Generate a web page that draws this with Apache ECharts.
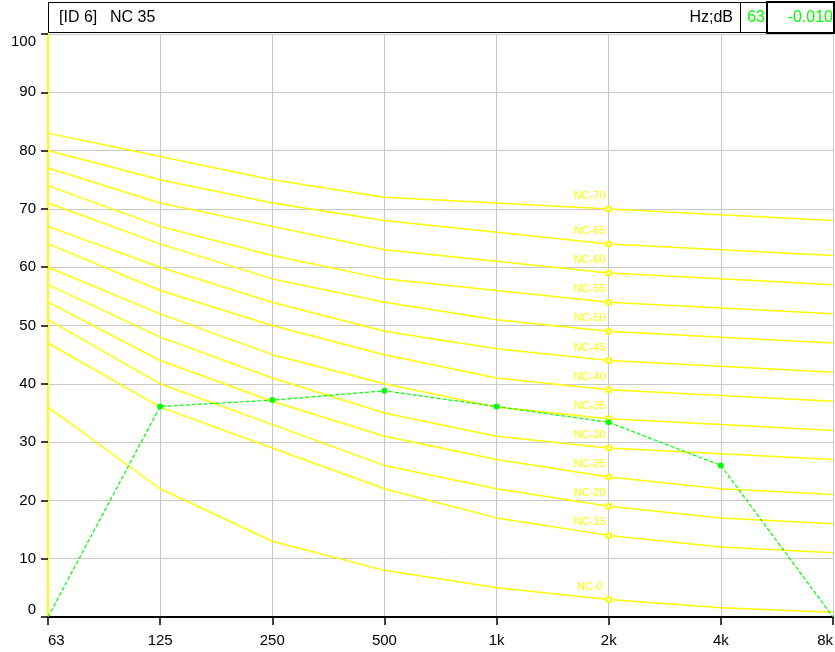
<!DOCTYPE html>
<html>
<head>
<meta charset="utf-8">
<script src="https://cdn.jsdelivr.net/npm/echarts@6/dist/echarts.min.js"></script>
<style>
html,body{margin:0;padding:0;background:#fff;}
#chart{width:835px;height:652px;}
</style>
</head>
<body>
<div id="chart"></div>
<script>
var freqLabels = ['63', '125', '250', '500', '1k', '2k', '4k', '8k'];
var yTicks = [0, 10, 20, 30, 40, 50, 60, 70, 80, 90, 100];

var nc0  = [36, 22, 13, 8, 5, 3, 1.6, 0.8];
var nc15 = [47, 36, 29, 22, 17, 14, 12, 11];
var nc20 = [51, 40, 33, 26, 22, 19, 17, 16];
var nc25 = [54, 44, 37, 31, 27, 24, 22, 21];
var nc30 = [57, 48, 41, 35, 31, 29, 28, 27];
var nc35 = [60, 52, 45, 40, 36, 34, 33, 32];
var nc40 = [64, 56, 50, 45, 41, 39, 38, 37];
var nc45 = [67, 60, 54, 49, 46, 44, 43, 42];
var nc50 = [71, 64, 58, 54, 51, 49, 48, 47];
var nc55 = [74, 67, 62, 58, 56, 54, 53, 52];
var nc60 = [77, 71, 67, 63, 61, 59, 58, 57];
var nc65 = [80, 75, 71, 68, 66, 64, 63, 62];
var nc70 = [83, 79, 75, 72, 71, 70, 69, 68];

var ncNames = ['NC-0', 'NC-15', 'NC-20', 'NC-25', 'NC-30', 'NC-35', 'NC-40', 'NC-45', 'NC-50', 'NC-55', 'NC-60', 'NC-65', 'NC-70'];
var ncCurves = [nc0, nc15, nc20, nc25, nc30, nc35, nc40, nc45, nc50, nc55, nc60, nc65, nc70];

var measured = [0, 36.1, 37.2, 38.8, 36.1, 33.4, 26.0, 0];

var headerId = '[ID 6]';
var headerTitle = 'NC 35';
var headerUnit = 'Hz;dB';
var headerFreq = '63';
var headerValue = '-0.010';

var YELLOW = '#ffff00';
var GREEN = '#00ff00';
var FONT = '"Liberation Sans", Arial, sans-serif';

var series = ncCurves.map(function (curve, i) {
  return {
    name: ncNames[i],
    type: 'line',
    data: curve.map(function (v, j) {
      if (j === 5) {
        return {
          value: v,
          label: {
            show: true,
            position: 'top',
            distance: 4,
            offset: [-19, 0],
            formatter: ncNames[i],
            color: YELLOW,
            fontSize: 11,
            fontFamily: FONT
          }
        };
      }
      return v;
    }),
    showSymbol: true,
    symbol: 'emptyCircle',
    symbolSize: function (v, p) { return p.dataIndex === 5 ? 5 : 0; },
    lineStyle: { color: YELLOW, width: 1.5 },
    itemStyle: { color: YELLOW, borderColor: YELLOW, borderWidth: 1.2 },
    silent: true,
    animation: false,
    z: 2
  };
});

series.push({
  name: 'measured',
  type: 'line',
  data: measured,
  showSymbol: true,
  symbol: 'circle',
  symbolSize: function (v, p) { return (p.dataIndex === 0 || p.dataIndex === measured.length - 1) ? 0 : 6; },
  lineStyle: { color: GREEN, width: 1.2, type: [4, 2] },
  itemStyle: { color: GREEN },
  animation: false,
  z: 5
});

var chart = echarts.init(document.getElementById('chart'), null, { renderer: 'canvas' });
chart.setOption({
  backgroundColor: '#ffffff',
  animation: false,
  grid: { left: 48, right: 2, top: 34, bottom: 35, containLabel: false, outerBoundsMode: 'none' },
  xAxis: {
    type: 'category',
    data: freqLabels,
    boundaryGap: false,
    axisLine: { show: true, lineStyle: { color: '#000', width: 2 } },
    axisTick: { show: true, alignWithLabel: true, length: 8, lineStyle: { color: '#000', width: 1.5 } },
    axisLabel: { color: '#000', fontSize: 15, fontFamily: FONT, margin: 16,
      alignMinLabel: 'left', alignMaxLabel: 'right' },
    splitLine: { show: true, lineStyle: { color: '#c8c8c8', width: 1 } }
  },
  yAxis: {
    type: 'value',
    min: 0,
    max: 100,
    interval: 10,
    axisLine: { show: true, lineStyle: { color: YELLOW, width: 2 } },
    axisTick: { show: true, length: 7, lineStyle: { color: '#000', width: 1.5 } },
    axisLabel: { color: '#000', fontSize: 15, fontFamily: FONT, margin: 12,
      verticalAlignMinLabel: 'bottom', verticalAlignMaxLabel: 'top',
      formatter: function (v) { return yTicks.indexOf(v) >= 0 ? String(v) : ''; } },
    splitLine: { show: true, lineStyle: { color: '#c8c8c8', width: 1 } }
  },
  graphic: [
    { type: 'rect', shape: { x: 48.5, y: 2.5, width: 785, height: 30 },
      style: { fill: '#fff', stroke: '#000', lineWidth: 1 }, z: 10 },
    { type: 'text', x: 59, y: 18, style: { text: headerId, fill: '#000', font: '16px ' + FONT, textVerticalAlign: 'middle' }, z: 11 },
    { type: 'text', x: 110, y: 18, style: { text: headerTitle, fill: '#000', font: '16px ' + FONT, textVerticalAlign: 'middle' }, z: 11 },
    { type: 'text', x: 733, y: 18, style: { text: headerUnit, fill: '#000', font: '16px ' + FONT, textAlign: 'right', textVerticalAlign: 'middle' }, z: 11 },
    { type: 'rect', shape: { x: 740.5, y: 2.5, width: 26, height: 30 },
      style: { fill: 'none', stroke: '#000', lineWidth: 1 }, z: 11 },
    { type: 'text', x: 765, y: 18, style: { text: headerFreq, fill: GREEN, font: '16px ' + FONT, textAlign: 'right', textVerticalAlign: 'middle' }, z: 12 },
    { type: 'rect', shape: { x: 767, y: 2, width: 67, height: 31 },
      style: { fill: 'none', stroke: '#000', lineWidth: 2 }, z: 11 },
    { type: 'text', x: 833, y: 18, style: { text: headerValue, fill: GREEN, font: '16px ' + FONT, textAlign: 'right', textVerticalAlign: 'middle' }, z: 12 }
  ],
  series: series
});
</script>
</body>
</html>
